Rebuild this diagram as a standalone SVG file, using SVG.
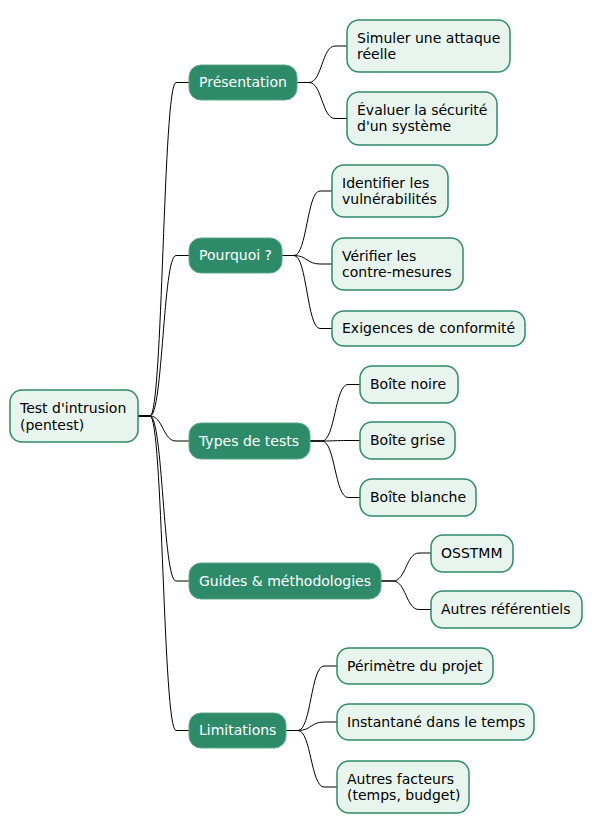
<svg xmlns="http://www.w3.org/2000/svg" width="592" height="834" viewBox="0 0 592 834">
<style>
.l1 rect{fill:#2E8B69;stroke:#5BA787;stroke-width:1}
.l2 rect,.root rect{fill:#E8F5EE;stroke:#2E8B69;stroke-width:1.5}
text{font-family:"DejaVu Sans","Noto Sans",sans-serif;font-size:14px;fill:#000}
.l1 text{fill:#FFFFFF}
#links path{fill:none;stroke:#000;stroke-width:1}
</style>
<rect width="592" height="834" fill="#FFFFFF"/>
<g id="links">
<path d="M138,416 L150,416 C163,416 163,82.5 176,82.5 L189,82.5"/>
<path d="M138,416 L150,416 C163,416 163,255.5 176,255.5 L189,255.5"/>
<path d="M138,416 L150,416 C163,416 163,441 176,441 L189,441"/>
<path d="M138,416 L150,416 C163,416 163,581 176,581 L189,581"/>
<path d="M138,416 L150,416 C163,416 163,730.5 176,730.5 L189,730.5"/>
<path d="M297,82.5 L309,82.5 C322,82.5 322,46 335,46 L347,46"/>
<path d="M297,82.5 L309,82.5 C322,82.5 322,118.5 335,118.5 L347,118.5"/>
<path d="M282,255.5 L294,255.5 C307,255.5 307,191 320,191 L332,191"/>
<path d="M282,255.5 L294,255.5 C307,255.5 307,264 320,264 L332,264"/>
<path d="M282,255.5 L294,255.5 C307,255.5 307,328.5 320,328.5 L332,328.5"/>
<path d="M310,441 L322,441 C335,441 335,384.5 348,384.5 L360,384.5"/>
<path d="M310,441 L322,441 C335,441 335,440.5 348,440.5 L360,440.5"/>
<path d="M310,441 L322,441 C335,441 335,497.5 348,497.5 L360,497.5"/>
<path d="M381,581 L393,581 C406,581 406,553 419,553 L431,553"/>
<path d="M381,581 L393,581 C406,581 406,609.5 419,609.5 L431,609.5"/>
<path d="M286,730.5 L298,730.5 C311,730.5 311,666 324,666 L337,666"/>
<path d="M286,730.5 L298,730.5 C311,730.5 311,722 324,722 L337,722"/>
<path d="M286,730.5 L298,730.5 C311,730.5 311,787 324,787 L337,787"/>
</g>
<g id="root" class="root"><rect x="10" y="390" width="128" height="52" rx="12"/><text x="20" y="413">Test d'intrusion</text><text x="20" y="429.5">(pentest)</text></g>
<g id="presentation" class="l1"><rect x="189" y="65" width="108" height="35" rx="12"/><text x="199" y="87">Présentation</text></g>
<g id="pourquoi" class="l1"><rect x="189" y="238" width="93" height="35" rx="12"/><text x="199" y="260">Pourquoi ?</text></g>
<g id="types" class="l1"><rect x="189" y="423" width="121" height="36" rx="12"/><text x="199" y="445.5">Types de tests</text></g>
<g id="guides" class="l1"><rect x="189" y="563" width="192" height="36" rx="12"/><text x="199" y="585.5">Guides &amp; méthodologies</text></g>
<g id="limitations" class="l1"><rect x="189" y="713" width="97" height="35" rx="12"/><text x="199" y="735">Limitations</text></g>
<g id="simuler" class="l2"><rect x="347" y="20" width="163" height="52" rx="12"/><text x="357" y="42.5">Simuler une attaque</text><text x="357" y="59">réelle</text></g>
<g id="evaluer" class="l2"><rect x="347" y="92" width="150" height="53" rx="12"/><text x="357" y="114.5">Évaluer la sécurité</text><text x="357" y="131">d'un système</text></g>
<g id="identifier" class="l2"><rect x="332" y="165" width="116" height="52" rx="12"/><text x="342" y="187.5">Identifier les</text><text x="342" y="204">vulnérabilités</text></g>
<g id="verifier" class="l2"><rect x="332" y="238" width="131" height="52" rx="12"/><text x="342" y="260.5">Vérifier les</text><text x="342" y="277">contre-mesures</text></g>
<g id="exigences" class="l2"><rect x="332" y="311" width="193" height="35" rx="12"/><text x="342" y="333">Exigences de conformité</text></g>
<g id="noire" class="l2"><rect x="360" y="366" width="98" height="37" rx="12"/><text x="370" y="389">Boîte noire</text></g>
<g id="grise" class="l2"><rect x="360" y="422" width="95" height="37" rx="12"/><text x="370" y="445">Boîte grise</text></g>
<g id="blanche" class="l2"><rect x="360" y="479" width="116" height="37" rx="12"/><text x="370" y="502">Boîte blanche</text></g>
<g id="osstmm" class="l2"><rect x="431" y="535" width="82" height="37" rx="12"/><text x="441" y="558">OSSTMM</text></g>
<g id="autresref" class="l2"><rect x="431" y="591" width="151" height="37" rx="12"/><text x="441" y="614">Autres référentiels</text></g>
<g id="perimetre" class="l2"><rect x="337" y="648" width="156" height="36" rx="12"/><text x="347" y="670.5">Périmètre du projet</text></g>
<g id="instantane" class="l2"><rect x="337" y="704" width="197" height="36" rx="12"/><text x="347" y="726.5">Instantané dans le temps</text></g>
<g id="facteurs" class="l2"><rect x="337" y="761" width="132" height="52" rx="12"/><text x="347" y="783.5">Autres facteurs</text><text x="347" y="800">(temps, budget)</text></g>
</svg>
